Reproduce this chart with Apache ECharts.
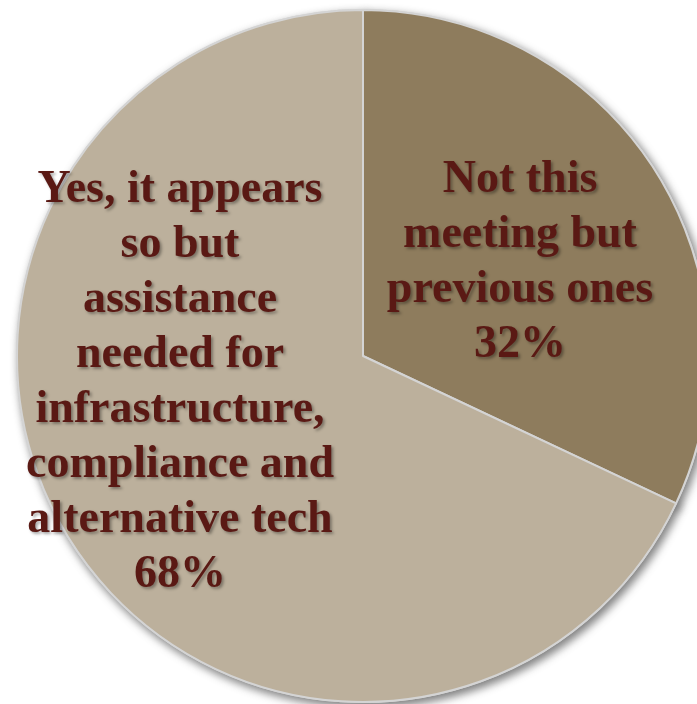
<!DOCTYPE html>
<html>
<head>
<meta charset="utf-8">
<style>
  html, body { margin: 0; padding: 0; background: #ffffff; }
  #chart { width: 697px; height: 704px; }
</style>
<script src="https://cdn.jsdelivr.net/npm/echarts@6/dist/echarts.min.js"></script>
</head>
<body>
<div id="chart"></div>
<script>
// Data
const categories = [
  "Not this\nmeeting but\nprevious ones",
  "Yes, it appears\nso but\nassistance\nneeded for\ninfrastructure,\ncompliance and\nalternative tech"
];
const values = [32, 68];
const sliceColors = ["#8E7C5D", "#BCB09C"];

// Label centre positions (layout only)
const labelCenters = [[520, 263], [180, 383]];

const chart = echarts.init(document.getElementById('chart'), null, { renderer: 'canvas' });

const pieData = categories.map((c, i) => ({
  name: c,
  value: values[i],
  itemStyle: { color: sliceColors[i] }
}));

const option = {
  animation: false,
  backgroundColor: '#ffffff',
  series: [
    {
      // shadow layer underneath
      type: 'pie',
      z: 1,
      center: [363, 356],
      radius: 346,
      startAngle: 90,
      clockwise: true,
      silent: true,
      data: pieData,
      itemStyle: {
        borderColor: '#D4D4D4',
        borderWidth: 2,
        shadowColor: 'rgba(0,0,0,0.5)',
        shadowBlur: 9,
        shadowOffsetX: 3,
        shadowOffsetY: 4
      },
      label: { show: false },
      labelLine: { show: false }
    },
    {
      type: 'pie',
      z: 2,
      center: [363, 356],
      radius: 346,
      startAngle: 90,
      clockwise: true,
      avoidLabelOverlap: false,
      silent: true,
      data: pieData,
      itemStyle: {
        borderColor: '#D4D4D4',
        borderWidth: 2
      },
      label: {
        show: true,
        position: 'inside',
        formatter: '{b}\n{d}%',
        fontFamily: '"Liberation Serif", "DejaVu Serif", serif',
        fontWeight: 'bold',
        fontSize: 46,
        lineHeight: 55,
        color: '#5A1914',
        align: 'center',
        textShadowColor: 'rgba(0,0,0,0.35)',
        textShadowBlur: 3,
        textShadowOffsetX: 2,
        textShadowOffsetY: 2
      },
      labelLine: { show: false },
      labelLayout: function (params) {
        const p = labelCenters[params.dataIndex];
        return { x: p[0], y: p[1], align: 'center', verticalAlign: 'middle' };
      }
    }
  ]
};
chart.setOption(option);
</script>
</body>
</html>
